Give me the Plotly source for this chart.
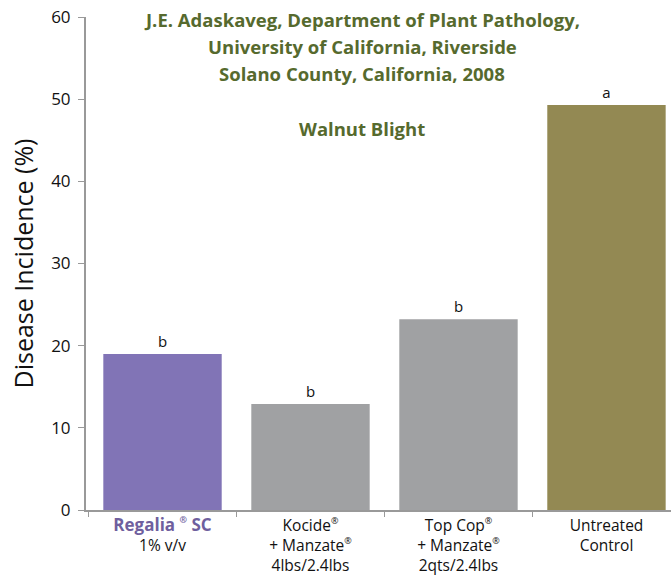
import plotly.graph_objects as go

categories = ["Regalia", "Kocide", "TopCop", "Untreated"]
R = "<sup><span style='font-size:9px'>®</span></sup>"
tick_labels = [
    "<b><span style='color:#6f5f9e;font-size:17px'>Regalia " + R + " SC</span></b><br>1% v/v",
    "Kocide" + R + "<br>+ Manzate" + R + "<br>4lbs/2.4lbs",
    "Top Cop" + R + "<br>+ Manzate" + R + "<br>2qts/2.4lbs",
    "Untreated<br>Control",
]
values = [19.0, 12.9, 23.2, 49.3]
letters = ["b", "b", "b", "a"]
colors = ["#8174b6", "#a0a1a3", "#a0a1a3", "#938953"]

title_lines = [
    "J.E. Adaskaveg, Department of Plant Pathology,",
    "University of California, Riverside",
    "Solano County, California, 2008",
]
subtitle = "Walnut Blight"

fig = go.Figure()
fig.add_trace(go.Bar(
    x=categories, y=values, marker=dict(color=colors, line=dict(width=0)),
    text=letters, textposition="outside", cliponaxis=False,
    textfont=dict(size=15, color="#111111", family="Open Sans"),
))

fig.update_layout(
    width=671, height=577,
    margin=dict(l=86, r=0, t=17, b=67),
    plot_bgcolor="white", paper_bgcolor="white",
    bargap=0.2,
    showlegend=False,
    font=dict(family="Open Sans", color="#111111"),
    xaxis=dict(
        type="category", tickmode="array", tickvals=categories, ticktext=tick_labels,
        range=[-0.517, 3.436], tickson="boundaries", ticks="outside", ticklen=5,
        tickcolor="#999999", showline=True, linecolor="#999999", linewidth=2,
        tickfont=dict(size=15.5, color="#111111", family="Open Sans"),
        showgrid=False, automargin=False,
    ),
    yaxis=dict(
        range=[0, 60], dtick=10, ticks="outside", ticklen=6, tickcolor="#999999",
        showline=True, linecolor="#999999", linewidth=2, showgrid=False, zeroline=False,
        tickfont=dict(size=17, color="#111111", family="Open Sans"),
        ticklabelstandoff=4, automargin=False,
        title=dict(text="Disease Incidence (%)", font=dict(size=25, color="#111111", family="Open Sans"), standoff=10),
    ),
)

title_color = "#566a2e"
for i, line in enumerate(title_lines):
    fig.add_annotation(
        text="<b>" + line + "</b>", x=(362 - 86) / 585, xref="paper", y=20 + 27 * i,
        yref="paper", showarrow=False, xanchor="center", yanchor="middle",
        font=dict(size=18.5, color=title_color, family="Open Sans"),
    )
fig.add_annotation(
    text="<b>" + subtitle + "</b>", x=(362 - 86) / 585, xref="paper", y=128,
    yref="paper", showarrow=False, xanchor="center", yanchor="middle",
    font=dict(size=18.5, color=title_color, family="Open Sans"),
)
# convert pixel y positions to paper coords
for ann in fig.layout.annotations:
    ann.y = (510 - ann.y) / 493

fig.write_html("out.html", config={"displayModeBar": False},
               post_script="document.body.style.margin='0';document.body.style.overflow='hidden';")
